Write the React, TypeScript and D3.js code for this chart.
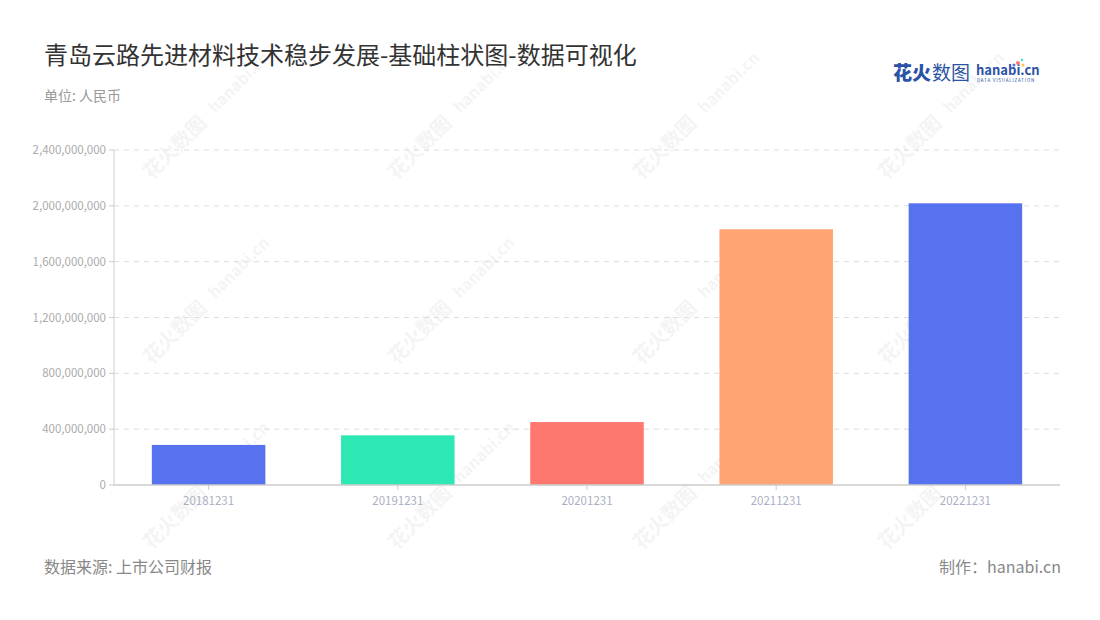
import React from "react";
import * as d3 from "d3";

const categories = ["20181231", "20191231", "20201231", "20211231", "20221231"];
const values = [287000000, 356000000, 451000000, 1832000000, 2018000000];
const colors = ["#5772EE", "#2EE8B4", "#FF7870", "#FFA573", "#5772EE"];
const yTicks = [0, 400000000, 800000000, 1200000000, 1600000000, 2000000000, 2400000000];
const title = "青岛云路先进材料技术稳步发展-基础柱状图-数据可视化";
const unitLabel = "单位: 人民币";
const sourceLabel = "数据来源: 上市公司财报";
const madeBy = "制作：hanabi.cn";

const W = 1100, H = 620;
const margin = { left: 114, right: 1060, top: 150, bottom: 485 };
const font = "'Noto Sans CJK SC', 'Noto Sans', sans-serif";

export default function App() {
  const x = d3.scaleBand<string>().domain(categories).range([margin.left, margin.right]).paddingInner(0.4).paddingOuter(0.2);
  const y = d3.scaleLinear().domain([0, 2400000000]).range([margin.bottom, margin.top]);
  const fmt = d3.format(",");
  const wmX = [150, 395, 640, 885];
  const wmY = [165, 350, 535];
  return (
    <svg width={W} height={H} style={{ position: "absolute", left: 0, top: 0, background: "#fff" }}>
      <rect width={W} height={H} fill="#fff" />
      {/* watermarks */}
      {wmX.map((wx) => wmY.map((wy) => (
        <g key={wx + "-" + wy} transform={`translate(${wx},${wy}) rotate(-45)`} opacity={0.06} fontFamily={font}>
          <text x={-10} y={12} fontSize={20} fontWeight={700} fill="#555">花火数图</text>
          <text x={82} y={10} fontSize={16} fontWeight={700} fill="#555">hanabi.cn</text>
        </g>
      )))}
      <text x={44} y={64} fontSize={24} fill="#333" fontFamily={font}>{title}</text>
      <text x={44} y={101} fontSize={14} fill="#999" fontFamily={font}>{unitLabel}</text>
      {/* logo */}
      <g fontFamily={font}>
        <text x={893} y={80} fontSize={19} fontWeight={900} fill="#2B52A6">花火</text>
        <text x={932} y={80} fontSize={19} fill="#2B52A6">数图</text>
        <text x={976} y={75} fontSize={13} fontWeight={700} fill="#2B52A6">hanabi.cn</text>
        <text x={977} y={82} fontSize={4.5} fill="#2B52A6" letterSpacing={0.8}>DATA VISUALIZATION</text>
        <circle cx={1018} cy={63} r={2} fill="#FF7870" />
        <circle cx={1023} cy={65} r={1.5} fill="#FFC04D" />
        <circle cx={1014} cy={65} r={1.5} fill="#5772EE" />
        <circle cx={1022} cy={60} r={1.2} fill="#2EE8B4" />
      </g>
      {/* grid */}
      {yTicks.map((t) => (
        <g key={t}>
          {t > 0 && <line x1={margin.left} x2={margin.right} y1={y(t)} y2={y(t)} stroke="#ddd" strokeDasharray="5,5" />}
          <line x1={margin.left - 5} x2={margin.left} y1={y(t)} y2={y(t)} stroke="#ccc" />
          <text x={margin.left - 8} y={y(t)} dy="0.35em" textAnchor="end" fontSize={11.5} fill="#aaa" fontFamily={font}>{fmt(t)}</text>
        </g>
      ))}
      <line x1={margin.left} x2={margin.left} y1={margin.top} y2={margin.bottom} stroke="#ccc" />
      {/* bars */}
      {categories.map((c, i) => (
        <rect key={c} x={x(c)} y={y(values[i])} width={x.bandwidth()} height={margin.bottom - y(values[i])} fill={colors[i]} />
      ))}
      <line x1={margin.left} x2={margin.right} y1={margin.bottom} y2={margin.bottom} stroke="#ccc" strokeWidth={1.5} />
      {categories.map((c) => {
        const cx = (x(c) as number) + x.bandwidth() / 2;
        return (
          <g key={c}>
            <line x1={cx} x2={cx} y1={margin.bottom} y2={margin.bottom + 5} stroke="#ccc" />
            <text x={cx} y={margin.bottom + 20} textAnchor="middle" fontSize={11.5} fill="#aab0bf" fontFamily={font}>{c}</text>
          </g>
        );
      })}
      <text x={44} y={573} fontSize={16} fill="#888" fontFamily={font}>{sourceLabel}</text>
      <text x={1061} y={573} fontSize={16} fill="#888" textAnchor="end" fontFamily={font}>{madeBy}</text>
    </svg>
  );
}
